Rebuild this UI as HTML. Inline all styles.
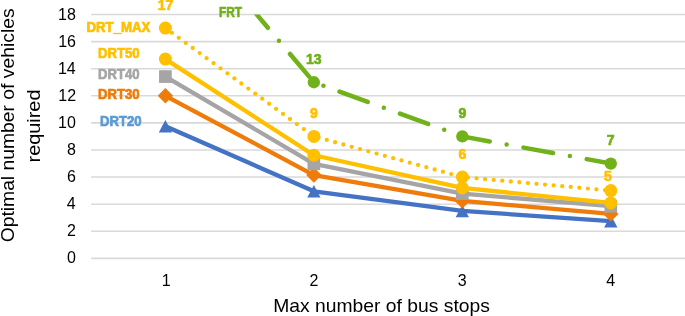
<!DOCTYPE html><html><head><meta charset="utf-8"><style>html,body{margin:0;padding:0;background:#fff;width:685px;height:316px;overflow:hidden}svg{display:block}text{font-family:"Liberation Sans",sans-serif}svg{will-change:transform}</style></head><body>
<svg width="685" height="316" viewBox="0 0 685 316">
<defs><clipPath id="pa"><rect x="91" y="14.5" width="594" height="260"/></clipPath></defs>
<line x1="91.2" y1="258.35" x2="685" y2="258.35" stroke="#D9D9D9" stroke-width="1.55"/>
<line x1="91.2" y1="231.26" x2="685" y2="231.26" stroke="#D9D9D9" stroke-width="1.55"/>
<line x1="91.2" y1="204.17" x2="685" y2="204.17" stroke="#D9D9D9" stroke-width="1.55"/>
<line x1="91.2" y1="177.07" x2="685" y2="177.07" stroke="#D9D9D9" stroke-width="1.55"/>
<line x1="91.2" y1="149.98" x2="685" y2="149.98" stroke="#D9D9D9" stroke-width="1.55"/>
<line x1="91.2" y1="122.89" x2="685" y2="122.89" stroke="#D9D9D9" stroke-width="1.55"/>
<line x1="91.2" y1="95.80" x2="685" y2="95.80" stroke="#D9D9D9" stroke-width="1.55"/>
<line x1="91.2" y1="68.71" x2="685" y2="68.71" stroke="#D9D9D9" stroke-width="1.55"/>
<line x1="91.2" y1="41.61" x2="685" y2="41.61" stroke="#D9D9D9" stroke-width="1.55"/>
<line x1="91.2" y1="14.52" x2="685" y2="14.52" stroke="#D9D9D9" stroke-width="1.55"/>
<text transform="translate(66.96,263.45) scale(1.0000,1)" font-size="16" fill="#000">0</text>
<text transform="translate(67.12,236.36) scale(1.0000,1)" font-size="16" fill="#000">2</text>
<text transform="translate(66.80,209.27) scale(1.0000,1)" font-size="16" fill="#000">4</text>
<text transform="translate(67.04,182.17) scale(1.0000,1)" font-size="16" fill="#000">6</text>
<text transform="translate(66.96,155.08) scale(1.0000,1)" font-size="16" fill="#000">8</text>
<text transform="translate(58.08,127.99) scale(1.0000,1)" font-size="16" fill="#000">10</text>
<text transform="translate(58.24,100.90) scale(1.0000,1)" font-size="16" fill="#000">12</text>
<text transform="translate(57.92,73.81) scale(1.0000,1)" font-size="16" fill="#000">14</text>
<text transform="translate(58.16,46.71) scale(1.0000,1)" font-size="16" fill="#000">16</text>
<text transform="translate(58.08,19.62) scale(1.0000,1)" font-size="16" fill="#000">18</text>
<text transform="translate(161.66,285.60) scale(1.0000,1)" font-size="16" fill="#000">1</text>
<text transform="translate(309.43,285.60) scale(1.0000,1)" font-size="16" fill="#000">2</text>
<text transform="translate(457.73,285.60) scale(1.0000,1)" font-size="16" fill="#000">3</text>
<text transform="translate(606.30,285.60) scale(1.0000,1)" font-size="16" fill="#000">4</text>
<text transform="translate(273.26,311.70) scale(1.0603,1)" font-size="18.2" fill="#000">Max number of bus stops</text>
<text transform="translate(14.20,242.37) rotate(-90) scale(1.0335,1)" font-size="18.7" fill="#000">Optimal number of vehicles</text>
<text transform="translate(39.70,162.49) rotate(-90) scale(1.0650,1)" font-size="18.7" fill="#000">required</text>
<g clip-path="url(#pa)"><polyline points="165.40,126.28 313.87,191.30 462.33,210.94 610.80,221.10" fill="none" stroke="#4472C4" stroke-width="4.3" stroke-linejoin="round"/>
<polygon points="165.40,119.98 172.05,132.58 158.75,132.58" fill="#4472C4"/>
<polygon points="313.87,185.00 320.52,197.60 307.22,197.60" fill="#4472C4"/>
<polygon points="462.33,204.64 468.98,217.24 455.68,217.24" fill="#4472C4"/>
<polygon points="610.80,214.80 617.45,227.40 604.15,227.40" fill="#4472C4"/>
</g>
<g clip-path="url(#pa)"><polyline points="165.40,95.80 313.87,175.04 462.33,200.91 610.80,213.92" fill="none" stroke="#EE7B0A" stroke-width="4.3" stroke-linejoin="round"/>
<polygon points="165.40,88.10 173.10,95.80 165.40,103.50 157.70,95.80" fill="#EE7B0A"/>
<polygon points="313.87,167.34 321.57,175.04 313.87,182.74 306.17,175.04" fill="#EE7B0A"/>
<polygon points="462.33,193.21 470.03,200.91 462.33,208.61 454.63,200.91" fill="#EE7B0A"/>
<polygon points="610.80,206.22 618.50,213.92 610.80,221.62 603.10,213.92" fill="#EE7B0A"/>
</g>
<g clip-path="url(#pa)"><polyline points="165.40,76.56 313.87,163.80 462.33,193.60 610.80,206.20" fill="none" stroke="#A5A5A5" stroke-width="4.3" stroke-linejoin="round"/>
<rect x="159.05" y="70.21" width="12.7" height="12.7" fill="#A5A5A5"/>
<rect x="307.52" y="157.45" width="12.7" height="12.7" fill="#A5A5A5"/>
<rect x="455.98" y="187.25" width="12.7" height="12.7" fill="#A5A5A5"/>
<rect x="604.45" y="199.85" width="12.7" height="12.7" fill="#A5A5A5"/>
</g>
<g clip-path="url(#pa)"><polyline points="165.40,59.09 313.87,155.26 462.33,187.91 610.80,202.95" fill="none" stroke="#FFC000" stroke-width="4.3" stroke-linejoin="round"/>
<circle cx="165.40" cy="59.09" r="6.5" fill="#FFC000"/>
<circle cx="313.87" cy="155.26" r="6.5" fill="#FFC000"/>
<circle cx="462.33" cy="187.91" r="6.5" fill="#FFC000"/>
<circle cx="610.80" cy="202.95" r="6.5" fill="#FFC000"/>
</g>
<g clip-path="url(#pa)"><polyline points="165.40,28.07 313.87,136.44 462.33,177.07 610.80,190.62" fill="none" stroke="#FFC000" stroke-width="4.3" stroke-dasharray="0 8.60" stroke-dashoffset="0.6" stroke-linecap="round"/>
<circle cx="165.40" cy="28.07" r="6.5" fill="#FFC000"/>
<circle cx="313.87" cy="136.44" r="6.5" fill="#FFC000"/>
<circle cx="462.33" cy="177.07" r="6.5" fill="#FFC000"/>
<circle cx="610.80" cy="190.62" r="6.5" fill="#FFC000"/>
</g>
<g clip-path="url(#pa)"><polyline points="165.40,-93.85 313.87,82.25 462.33,136.44 610.80,163.53" fill="none" stroke="#71B11A" stroke-width="4.5" stroke-dasharray="30 17.15 0 17.15" stroke-dashoffset="-0.45" stroke-linecap="round"/>
<circle cx="313.87" cy="82.25" r="6.15" fill="#71B11A"/>
<circle cx="462.33" cy="136.44" r="6.15" fill="#71B11A"/>
<circle cx="610.80" cy="163.53" r="6.15" fill="#71B11A"/>
</g>
<text transform="translate(86.44,31.70) scale(0.9464,1)" font-size="14" font-weight="bold" stroke="#FFC000" stroke-width="0.7" fill="#FFC000">DRT_MAX</text>
<text transform="translate(97.95,57.70) scale(0.9384,1)" font-size="14" font-weight="bold" stroke="#FFC000" stroke-width="0.7" fill="#FFC000">DRT50</text>
<text transform="translate(97.95,79.00) scale(0.9384,1)" font-size="14" font-weight="bold" stroke="#A5A5A5" stroke-width="0.7" fill="#A5A5A5">DRT40</text>
<text transform="translate(97.95,98.50) scale(0.9384,1)" font-size="14" font-weight="bold" stroke="#EE7B0A" stroke-width="0.7" fill="#EE7B0A">DRT30</text>
<text transform="translate(99.95,125.80) scale(0.9384,1)" font-size="14" font-weight="bold" stroke="#5B9BD5" stroke-width="0.7" fill="#5B9BD5">DRT20</text>
<text transform="translate(219.03,16.90) scale(0.8480,1)" font-size="14" font-weight="bold" stroke="#71B11A" stroke-width="0.7" fill="#71B11A">FRT</text>
<text transform="translate(157.79,9.80) scale(1.0000,1)" font-size="14" font-weight="bold" stroke="#FFC000" stroke-width="0.7" fill="#FFC000">17</text>
<text transform="translate(305.92,64.00) scale(1.0000,1)" font-size="14" font-weight="bold" stroke="#71B11A" stroke-width="0.7" fill="#71B11A">13</text>
<text transform="translate(310.12,118.30) scale(1.0000,1)" font-size="14" font-weight="bold" stroke="#FFC000" stroke-width="0.7" fill="#FFC000">9</text>
<text transform="translate(458.51,118.30) scale(1.0000,1)" font-size="14" font-weight="bold" stroke="#71B11A" stroke-width="0.7" fill="#71B11A">9</text>
<text transform="translate(458.51,158.60) scale(1.0000,1)" font-size="14" font-weight="bold" stroke="#FFC000" stroke-width="0.7" fill="#FFC000">6</text>
<text transform="translate(606.72,145.00) scale(1.0000,1)" font-size="14" font-weight="bold" stroke="#71B11A" stroke-width="0.7" fill="#71B11A">7</text>
<text transform="translate(603.98,181.00) scale(1.0000,1)" font-size="14" font-weight="bold" stroke="#FFC000" stroke-width="0.7" fill="#FFC000">5</text>
</svg></body></html>
